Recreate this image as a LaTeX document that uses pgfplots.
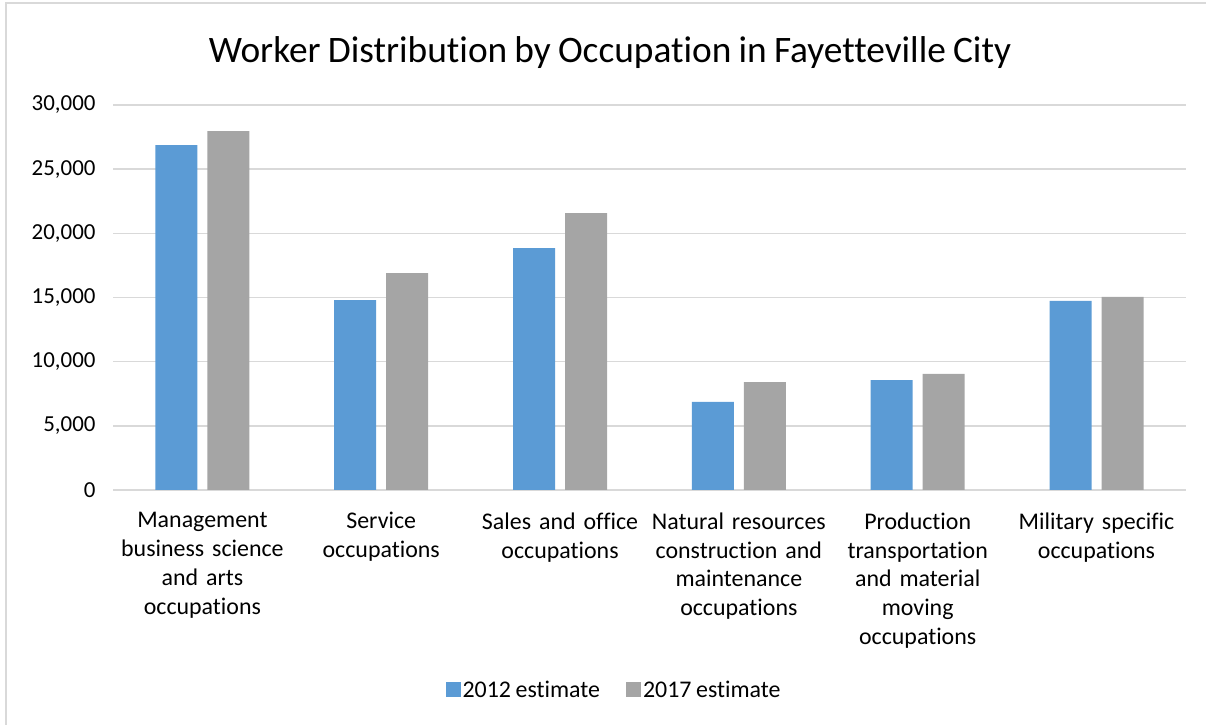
\documentclass[border=0pt]{standalone}
\usepackage{fontspec}
\setmainfont{Carlito}[Ligatures=NoCommon, WordSpace=0.85]
\usepackage{pgfplots}
\pgfplotsset{compat=1.18}
\definecolor{blue12}{HTML}{5B9BD5}
\definecolor{gray17}{HTML}{A5A5A5}
\definecolor{gridgray}{HTML}{D9D9D9}

\begin{document}
\begin{tikzpicture}
\useasboundingbox (0,0) rectangle (1206bp,725bp);
\draw[gridgray,line width=1.5bp] (6bp,0) -- (6bp,722bp) -- (1206bp,722bp);
\node[font=\fontsize{37.5}{44}\selectfont,anchor=base] at (610bp,662bp)
  {Worker Distribution by Occupation in Fayetteville City};
\begin{axis}[
  at={(113bp,235bp)}, anchor=south west,
  scale only axis, width=1073bp, height=385bp,
  ybar=10bp, bar width=42bp,
  xmin=-0.5, xmax=5.5, ymin=0, ymax=30000,
  ytick={0,5000,...,30000},
  xtick={0,...,5},
  xticklabels={
    Management\\business science\\and arts\\occupations,
    Service\\occupations,
    Sales and office\\occupations,
    Natural resources\\construction and\\maintenance\\occupations,
    Production\\transportation\\and material\\moving\\occupations,
    Military specific\\occupations},
  axis line style={draw=none},
  major tick length=0pt,
  ymajorgrids,
  grid style={draw=gridgray,line width=1.5bp},
  scaled y ticks=false,
  /pgf/number format/.cd, 1000 sep={,}, assume math mode=true, /pgfplots/.cd,
  yticklabel style={font=\fontsize{23}{29}\selectfont, xshift=-14bp},
  xticklabel style={font=\fontsize{24}{29}\selectfont, align=center,
    text width=180bp, anchor=north, yshift=-19bp},
  legend columns=2,
  legend style={at={(0.467,-0.52)}, anchor=center, draw=none,
    font=\fontsize{24}{28}\selectfont,
    /tikz/every even column/.append style={column sep=24bp}},
  legend image code/.code={\fill[#1,draw=none] (-5bp,-7bp) rectangle (10bp,8bp);},
]
\addplot[fill=blue12,draw=none] coordinates {
  (0,26880) (1,14800) (2,18850) (3,6860) (4,8570) (5,14730)
};
\addplot[fill=gray17,draw=none] coordinates {
  (0,27970) (1,16900) (2,21580) (3,8410) (4,9040) (5,15040)
};
\legend{2012 estimate,2017 estimate}
\end{axis}
\end{tikzpicture}
\end{document}
